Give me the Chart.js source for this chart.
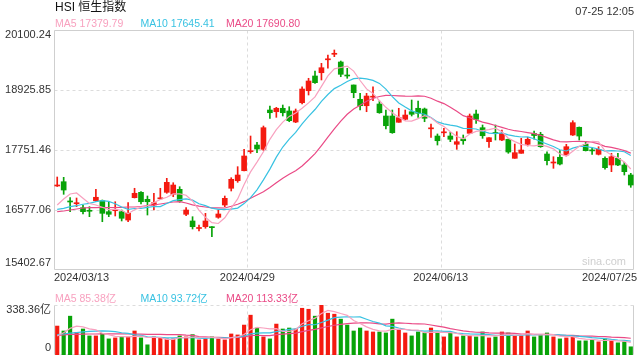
<!DOCTYPE html>
<html><head><meta charset="utf-8">
<script src="https://cdn.jsdelivr.net/npm/chart.js@4.4.1/dist/chart.umd.min.js"></script>
<style>
html,body{margin:0;padding:0;background:#fff;}
#wrap{position:relative;width:640px;height:360px;background:#fff;}
canvas{position:absolute;left:0;top:0;}
</style></head>
<body><div id="wrap"><canvas id="k" width="640" height="360"></canvas><canvas id="v" width="640" height="360"></canvas></div>
<script>
const title = 'HSI 恒生指数';
const stamp = '07-25 12:05';
const dates = ['2024/03/13','2024/03/14','2024/03/15','2024/03/18','2024/03/19','2024/03/20','2024/03/21','2024/03/22','2024/03/25','2024/03/26','2024/03/27','2024/03/28',
'2024/04/02','2024/04/03','2024/04/05','2024/04/08','2024/04/09','2024/04/10','2024/04/11','2024/04/12','2024/04/15','2024/04/16','2024/04/17','2024/04/18','2024/04/19','2024/04/22','2024/04/23','2024/04/24','2024/04/25','2024/04/26','2024/04/29','2024/04/30',
'2024/05/02','2024/05/03','2024/05/06','2024/05/07','2024/05/08','2024/05/09','2024/05/10','2024/05/13','2024/05/14','2024/05/16','2024/05/17','2024/05/20','2024/05/21','2024/05/22','2024/05/23','2024/05/24','2024/05/27','2024/05/28','2024/05/29','2024/05/30','2024/05/31',
'2024/06/03','2024/06/04','2024/06/05','2024/06/06','2024/06/07','2024/06/11','2024/06/12','2024/06/13','2024/06/14','2024/06/17','2024/06/18','2024/06/19','2024/06/20','2024/06/21','2024/06/24','2024/06/25','2024/06/26','2024/06/27','2024/06/28',
'2024/07/02','2024/07/03','2024/07/04','2024/07/05','2024/07/08','2024/07/09','2024/07/10','2024/07/11','2024/07/12','2024/07/15','2024/07/16','2024/07/17','2024/07/18','2024/07/19','2024/07/22','2024/07/23','2024/07/24','2024/07/25'];
const shownDates = ['2024/03/13','2024/04/29','2024/06/13','2024/07/25'];
const priceTicks = [20100.24, 18925.85, 17751.46, 16577.06, 15402.67];
const volTicks = [338.36, 0];

const opens = [17047,17131,16747,16700,16622,16563,16759,16759,16544,16563,
16544,16381,16818,16923,16786,16675,16796,16923,16884,16982,
16493,16362,16215,16250,16244,16434,16675,17002,17150,17346,
17718,17849,17765,18534,18501,18568,18515,18299,18677,18912,
19200,19264,19517,19625,19474,19213,19024,18744,18618,18785,
18652,18417,18417,18294,18352,18501,18568,18554,18166,18025,
18088,18025,17863,17967,18078,18456,18188,17914,18088,17947,
17961,17589,17687,17863,18074,18059,17673,17497,17609,17654,
18045,18196,17863,17746,17667,17589,17458,17589,17458,17262];
const highs = [17223,17217,16818,16812,16675,16642,16982,16773,16739,16739,
16577,16720,17002,16939,16851,16904,17002,17197,17111,17033,
16622,16446,16283,16512,16254,16577,16851,17209,17425,17765,
18025,17902,18221,18613,18587,18632,18599,18554,18990,19155,
19298,19448,19611,19709,19493,19351,19024,18861,18861,18990,
18710,18534,18534,18568,18534,18730,18710,18573,18260,18065,
18176,18098,18110,18045,18456,18534,18241,17996,18241,18143,
17967,17869,17980,18000,18123,18098,17718,17620,17738,17863,
18325,18202,17914,17797,17816,17620,17687,17687,17511,17295];
const lows = [17037,16884,16544,16642,16499,16446,16744,16348,16446,16460,
16362,16348,16812,16694,16479,16577,16783,16904,16837,16728,
16465,16205,16166,16219,16054,16415,16642,16949,17119,17340,
17687,17699,17738,18372,18391,18417,18305,18286,18652,18828,
19057,19122,19351,19578,19186,19155,18775,18534,18501,18716,
18470,18162,18078,18294,18339,18417,18391,18305,18000,17849,
18012,17914,17765,17863,18078,18274,17980,17800,17947,17933,
17687,17589,17687,17830,17961,17804,17458,17393,17458,17634,
18035,17947,17732,17667,17654,17374,17327,17444,17262,17021];
const closes = [17062,16968,16734,16720,16544,16552,16826,16512,16493,16591,
16415,16512,16904,16739,16739,16720,16812,17119,17066,16753,
16577,16250,16225,16362,16231,16499,16806,17178,17262,17634,
17732,17771,18188,18481,18568,18481,18325,18515,18945,19102,
19069,19362,19533,19636,19233,19200,18873,18618,18808,18799,
18481,18227,18090,18384,18436,18450,18470,18372,18176,17933,
18098,17961,17914,17933,18417,18352,18031,17992,18074,18078,
17712,17699,17751,17961,18035,17816,17542,17507,17477,17816,
18286,18025,17738,17734,17765,17405,17620,17458,17327,17066];

const ma5 = [16675,16792,16890,16910,16806,16704,16675,16630,16585,16595,
16567,16505,16583,16632,16661,16724,16783,16826,16892,16894,
16865,16753,16575,16434,16329,16313,16424,16614,16794,17076,
17323,17515,17718,17961,18149,18297,18409,18474,18568,18673,
18791,18998,19202,19341,19366,19394,19296,19112,18947,18859,
18716,18587,18482,18395,18323,18317,18366,18423,18382,18280,
18210,18108,18016,17969,18065,18116,18129,18149,18180,18110,
17982,17916,17863,17840,17832,17853,17822,17773,17675,17632,
17726,17822,17869,17920,17910,17734,17652,17597,17515,17379.79];
const ma10 = [16591,16610,16642,16661,16689,16708,16740,16759,16747,16700,
16636,16589,16606,16608,16628,16646,16644,16704,16761,16779,
16794,16769,16700,16663,16612,16589,16589,16595,16614,16702,
16818,16971,17166,17377,17612,17810,17963,18096,18264,18411,
18544,18703,18838,18953,19020,19092,19147,19157,19143,19114,
19055,18942,18797,18671,18591,18517,18476,18452,18388,18302,
18264,18237,18219,18174,18172,18163,18119,18082,18072,18086,
18049,18022,18006,18008,17971,17918,17869,17819,17757,17732,
17789,17822,17820,17798,17771,17730,17738,17732,17718,17645.41];
const ma20 = [16544,16558,16577,16597,16616,16622,16622,16626,16626,16626,
16630,16636,16636,16646,16665,16675,16694,16714,16734,16740,
16714,16679,16653,16636,16620,16618,16616,16650,16689,16740,
16806,16871,16933,17019,17111,17200,17276,17344,17438,17556,
17681,17838,18002,18166,18315,18450,18554,18626,18705,18761,
18799,18822,18818,18812,18806,18804,18812,18804,18765,18707,
18660,18589,18509,18423,18382,18341,18298,18268,18231,18194,
18157,18129,18114,18092,18072,18039,17994,17951,17916,17910,
17918,17922,17914,17904,17871,17824,17803,17775,17738,17690.80];

const volumes = [195.9,162.5,262.8,153.6,175.9,129.1,129.1,146.9,109,115.7,
122.4,122.4,162.5,115.7,68.9,122.4,115.7,109,109,129.1,
122.4,138,102.3,109,122.4,109,102.3,142.4,135.7,202.6,
269.5,182.6,122.4,109,209.3,175.9,182.6,175.9,316.3,309.6,
262.8,338.36,282.9,276.2,242.7,202.6,162.5,182.6,162.5,155.8,
155.8,149.1,242.7,169.2,149.1,129.1,155.8,149.1,182.6,155.8,
122.4,149.1,122.4,129.1,129.1,122.4,155.8,115.7,122.4,155.8,
149.1,129.1,129.1,162.5,122.4,135.7,149.1,122.4,109,115.7,
122.4,95.6,95.6,102.3,88.9,109,95.6,82.3,88.9,55.5];
const vma5 = [129,150,180,195,190.1,176.8,170.1,146.9,138.0,126.0,
124.6,123.3,126.4,127.7,118.4,118.4,117.0,106.3,105.0,117.0,
117.0,121.5,120.2,120.2,118.8,116.1,109.0,117.0,122.4,138.4,
170.5,186.6,182.6,177.2,178.6,159.8,159.8,170.5,212.0,232.1,
249.4,280.6,302.0,294.0,280.6,268.6,233.4,213.3,190.6,173.2,
163.8,161.2,173.2,174.5,173.2,167.8,169.2,150.5,153.1,154.5,
153.1,151.8,146.5,135.8,130.4,130.4,131.8,130.4,129.1,134.4,
139.8,134.4,137.1,145.1,138.4,135.8,139.8,138.4,127.7,126.4,
123.7,113.0,107.7,106.3,101.0,98.3,98.3,95.6,92.9,85.38];
const vma10 = [138,142,148,152,156,160,162,163,161,158.1,
150.7,146.7,136.7,132.9,122.2,121.5,120.2,116.4,116.4,117.7,
117.7,119.3,113.3,112.6,117.9,116.6,115.3,118.6,121.3,128.6,
143.3,147.8,149.8,149.8,158.5,165.2,173.2,176.6,194.6,205.3,
204.6,220.2,236.3,253.0,256.3,259.0,257.0,257.7,242.3,226.9,
216.2,197.3,193.3,182.6,173.2,165.8,165.2,161.8,163.8,163.8,
160.5,160.5,148.5,144.5,142.5,141.8,141.8,138.4,132.4,132.4,
135.1,133.1,133.8,137.1,136.4,137.8,137.1,137.8,136.4,132.4,
129.7,126.4,123.0,117.0,113.7,111.0,105.7,101.6,99.6,93.72];
const vma20 = [133,136,139,140,141,142,142,143,143,143,
143,142,142,141,140,140,139,138,138,137.9,
134.2,133.0,125.0,122.7,120.1,119.0,117.7,117.5,118.8,123.2,
130.5,133.5,131.5,131.2,138.2,140.9,144.2,147.6,157.9,167.0,
174.0,184.0,193.0,201.4,207.4,212.1,215.1,217.1,218.4,216.1,
210.4,208.7,214.8,217.8,214.8,212.4,211.1,209.7,203.1,195.4,
188.3,178.9,170.9,163.5,157.8,153.8,153.5,150.1,148.1,148.1,
147.8,146.8,141.1,140.8,139.4,139.8,139.4,138.1,134.4,132.4,
132.4,129.7,128.4,127.1,125.1,124.4,121.4,119.7,118.0,113.33];

const maNames = ['MA5', 'MA10', 'MA20'];
const priceMaLast = ['17379.79', '17645.41', '17690.80'];
const volMaLast = ['85.38亿', '93.72亿', '113.33亿'];

const FONT = '"Liberation Sans", Arial, "Noto Sans CJK SC", sans-serif';
const UP = '#f41a10', DOWN = '#08a308';
const MA_COLORS = ['#f8a1bf', '#38c2e2', '#ea4a86'];
const candleColors = closes.map((c, i) => c >= opens[i] ? UP : DOWN);
const splitIdx = [shownDates[1], shownDates[2]].map(d => dates.indexOf(d));

function seg(ctx, x1, y1, x2, y2) { ctx.beginPath(); ctx.moveTo(x1, y1); ctx.lineTo(x2, y2); ctx.stroke(); }

const framePlugin = {
  id: 'frame',
  beforeDatasetsDraw(chart, args, o) {
    const { ctx, chartArea: a, scales: { x, y } } = chart;
    const L = Math.round(a.left) + 0.5, R = Math.round(a.right) - 0.5;
    const T = Math.round(a.top) + 0.5, B = Math.round(a.bottom) - 0.5;
    ctx.save();
    ctx.lineWidth = 1;
    ctx.strokeStyle = '#dcdcdc';
    ctx.setLineDash([3, 3]);
    (o.grid || []).forEach(v => {
      const py = Math.round(y.getPixelForValue(v)) + 0.5;
      if (py > T + 2 && py < B - 2) seg(ctx, L, py, R, py);
    });
    splitIdx.forEach(i => {
      const px = Math.round((x.getPixelForValue(i - 1) + x.getPixelForValue(i)) / 2) + 0.5;
      seg(ctx, px, T, px, B);
    });
    // frame sides
    const sides = { t: [L, T, R, T], b: [L, B, R, B], l: [L, T, L, B], r: [R, T, R, B] };
    ctx.strokeStyle = '#cfcfcf';
    Object.keys(sides).forEach(k => {
      ctx.setLineDash(o.dotted.includes(k) ? [3, 3] : []);
      ctx.strokeStyle = o.dotted.includes(k) ? '#dcdcdc' : '#cfcfcf';
      seg(ctx, ...sides[k]);
    });
    ctx.restore();
  },
  afterDraw(chart, args, o) {
    const { ctx, chartArea: a, scales: { x, y } } = chart;
    ctx.save();
    ctx.textBaseline = 'middle';
    // legend
    ctx.font = '10.5px ' + FONT;
    ctx.textAlign = 'left';
    o.legend.forEach((t, i) => { ctx.fillStyle = MA_COLORS[i]; ctx.fillText(maNames[i] + ' ' + t, a.left + 1 + i * 85.5, a.top - 6); });
    // y labels
    ctx.font = '11px ' + FONT;
    ctx.fillStyle = '#333';
    ctx.textAlign = 'right';
    o.ticks.forEach((v, i) => {
      let py = y.getPixelForValue(v);
      if (i === 0) py = a.top + 5;
      else if (i === o.ticks.length - 1) py = a.bottom - 7;
      ctx.fillText(o.fmt(v), a.left - 3, py);
    });
    if (o.main) {
      ctx.fillStyle = '#111';
      ctx.font = '12px ' + FONT;
      ctx.textAlign = 'left';
      ctx.fillText(title, a.left + 1, 8);
      ctx.font = '11px ' + FONT;
      ctx.fillStyle = '#333';
      ctx.textAlign = 'right';
      ctx.fillText(stamp, a.right, 12);
      // dates
      shownDates.forEach((d, k) => {
        const i = dates.indexOf(d);
        let px, al;
        if (k === 0) { px = a.left; al = 'left'; }
        else if (k === shownDates.length - 1) { px = a.right + 3; al = 'right'; }
        else { px = (x.getPixelForValue(i - 1) + x.getPixelForValue(i)) / 2; al = 'center'; }
        ctx.textAlign = al;
        ctx.fillText(d, px, a.bottom + 8);
      });
      ctx.fillStyle = '#cfcfcf';
      ctx.font = '11px ' + FONT;
      ctx.textAlign = 'right';
      ctx.fillText('sina.com', a.right - 8, a.bottom - 8);
    }
    ctx.restore();
  }
};

const lineDs = (data, i, yID) => ({ type: 'line', data, borderColor: MA_COLORS[i], borderWidth: 1.2, pointRadius: 0, tension: 0, fill: false });

const common = (padding) => ({
  responsive: false, animation: false, devicePixelRatio: 1,
  layout: { padding },
  plugins: { legend: { display: false }, tooltip: { enabled: false } },
  events: []
});

new Chart(document.getElementById('k'), {
  data: {
    labels: dates,
    datasets: [
      lineDs(ma5, 0), lineDs(ma10, 1), lineDs(ma20, 2),
      { type: 'bar', data: opens.map((o, i) => [o, closes[i]]), backgroundColor: candleColors, barThickness: 5, minBarLength: 1, grouped: false },
      { type: 'bar', data: lows.map((l, i) => [l, highs[i]]), backgroundColor: candleColors, barThickness: 1, grouped: false }
    ]
  },
  options: Object.assign(common({ left: 54, right: 6, top: 30, bottom: 90 }), {
    scales: {
      x: { type: 'category', offset: true, display: false },
      y: { min: priceTicks[priceTicks.length - 1], max: priceTicks[0], display: false }
    },
    plugins: {
      legend: { display: false }, tooltip: { enabled: false },
      frame: { grid: priceTicks, dotted: [], legend: priceMaLast, ticks: priceTicks, fmt: v => v.toFixed(2), main: true }
    }
  }),
  plugins: [framePlugin]
});

new Chart(document.getElementById('v'), {
  data: {
    labels: dates,
    datasets: [
      lineDs(vma5, 0), lineDs(vma10, 1), lineDs(vma20, 2),
      { type: 'bar', data: volumes, backgroundColor: candleColors, barThickness: 3.5, grouped: false }
    ]
  },
  options: Object.assign(common({ left: 54, right: 6, top: 305, bottom: 5 }), {
    scales: {
      x: { type: 'category', offset: true, display: false },
      y: { min: volTicks[1], max: volTicks[0], display: false }
    },
    plugins: {
      legend: { display: false }, tooltip: { enabled: false },
      frame: { grid: [], dotted: ['t', 'b'], legend: volMaLast, ticks: volTicks, fmt: v => v === 0 ? '0' : v.toFixed(2) + '亿', main: false }
    }
  }),
  plugins: [framePlugin]
});
</script></body></html>
